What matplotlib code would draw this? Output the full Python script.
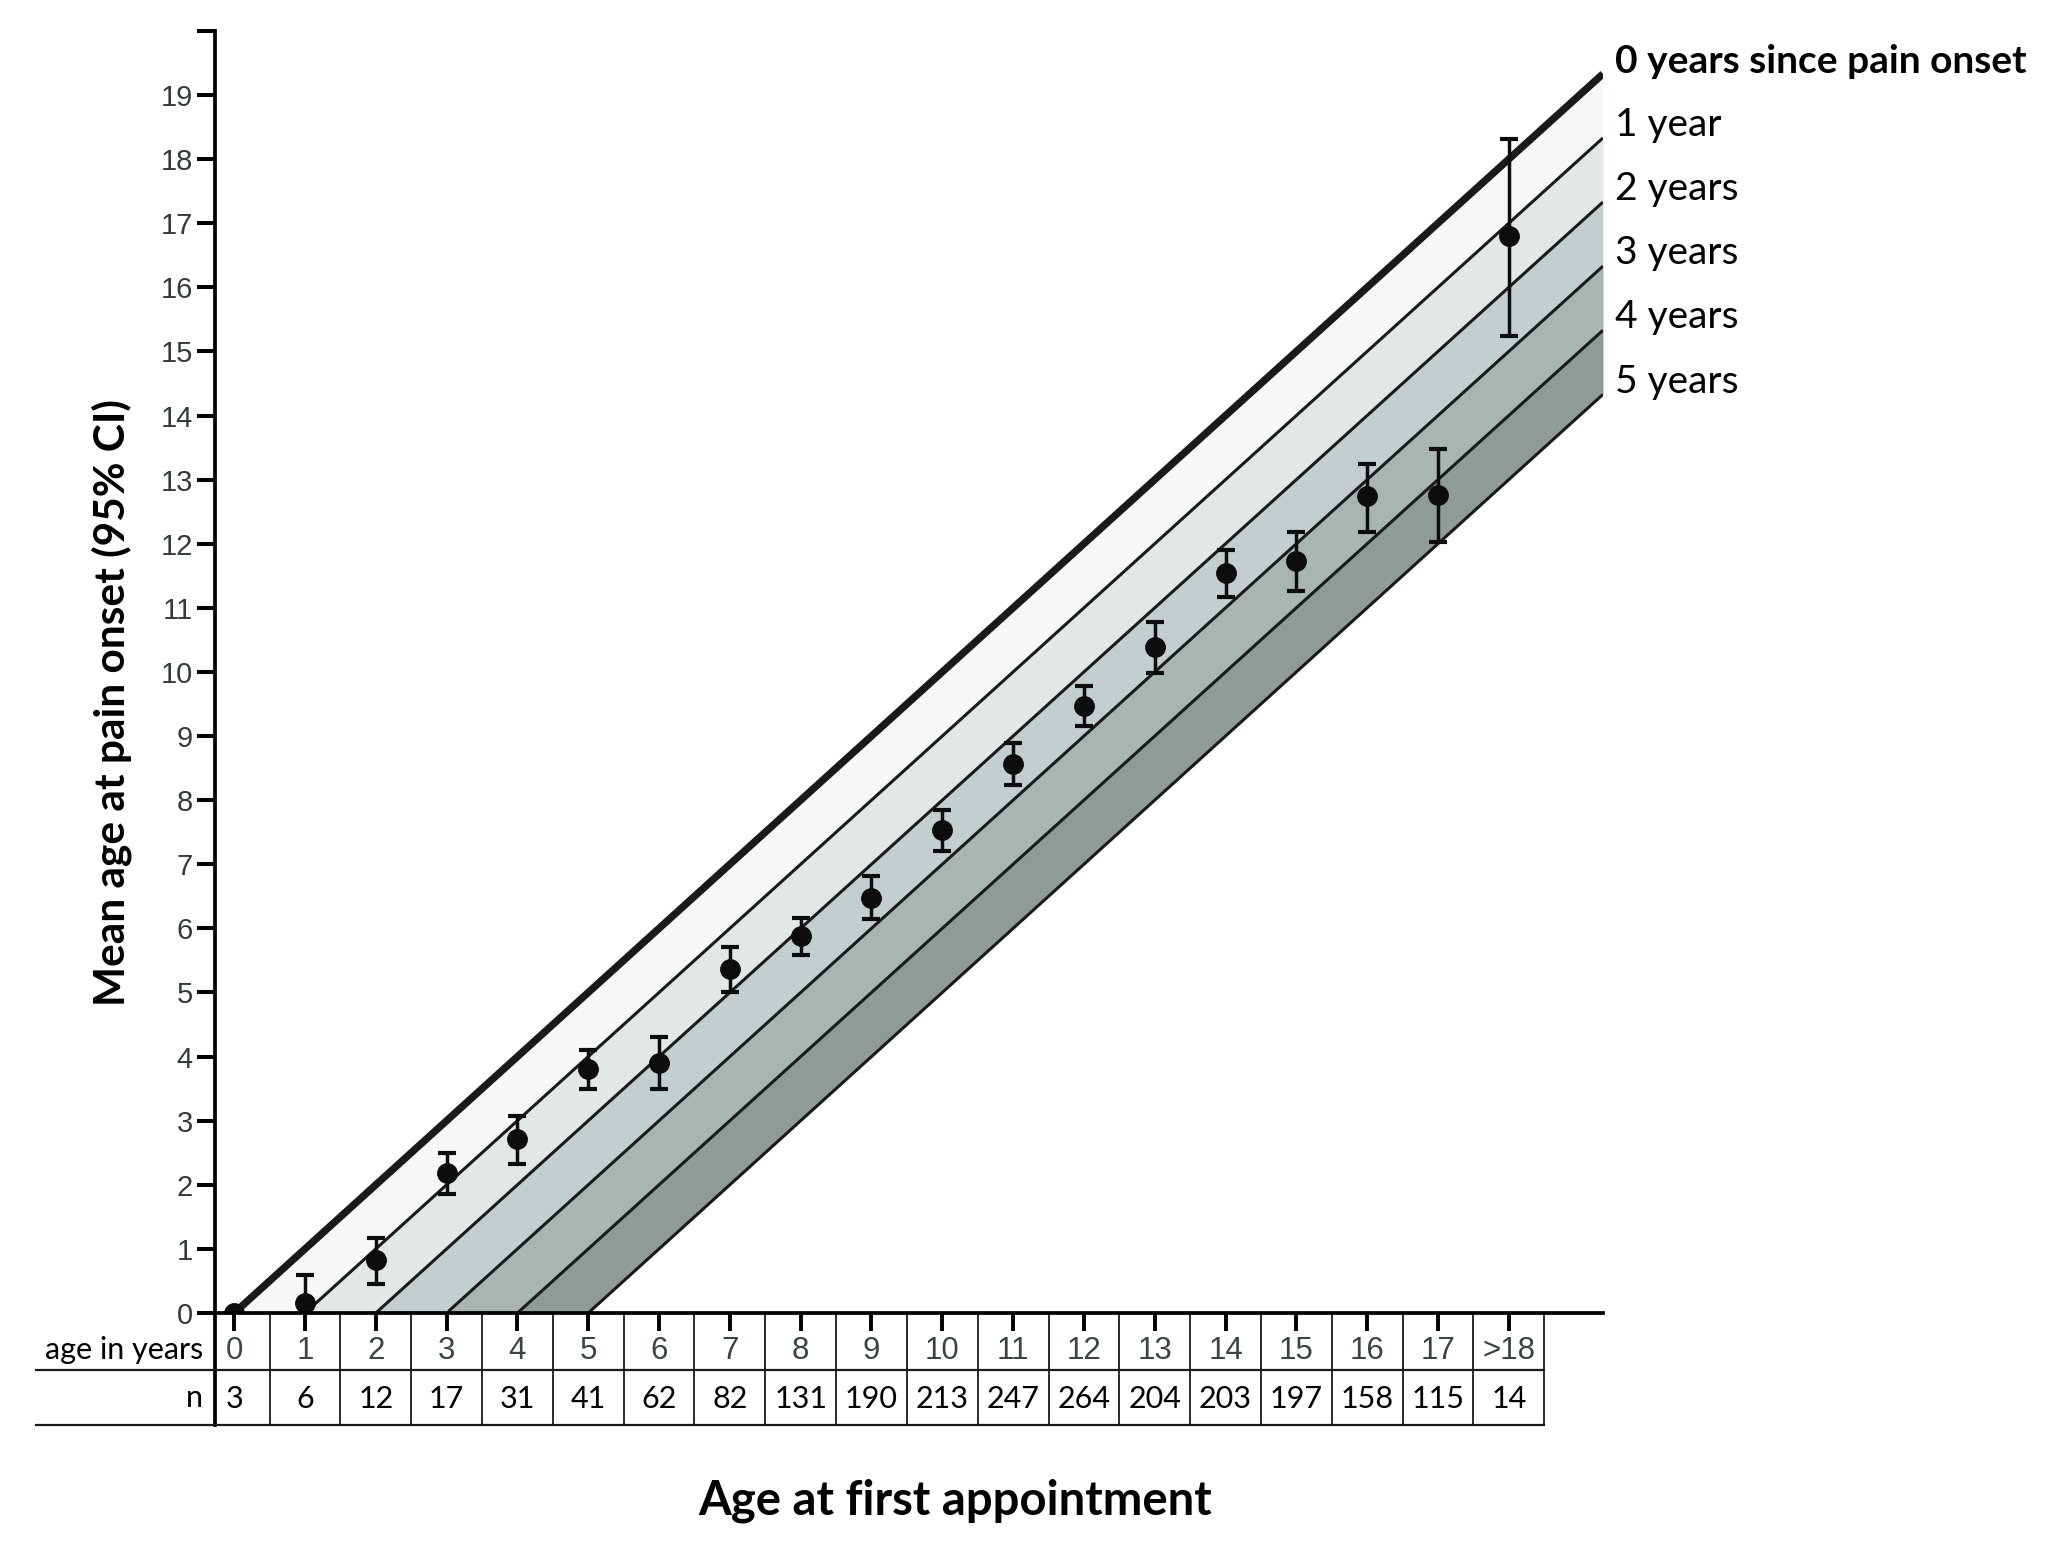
import matplotlib
matplotlib.use("Agg")
import matplotlib.pyplot as plt
import numpy as np

# ---------------- data ----------------
age_labels = ["0", "1", "2", "3", "4", "5", "6", "7", "8", "9", "10", "11",
              "12", "13", "14", "15", "16", "17", ">18"]
age_pos = list(range(19))
n_values = [3, 6, 12, 17, 31, 41, 62, 82, 131, 190, 213, 247, 264, 204, 203,
            197, 158, 115, 14]
mean_onset = [0.0, 0.16, 0.82, 2.18, 2.71, 3.80, 3.90, 5.36, 5.88, 6.47, 7.54,
              8.57, 9.47, 10.39, 11.54, 11.73, 12.74, 12.76, 16.80]
ci_low = [0.0, -0.3, 0.45, 1.85, 2.32, 3.49, 3.49, 5.01, 5.59, 6.14, 7.21,
          8.24, 9.16, 9.98, 11.17, 11.26, 12.18, 12.02, 15.24]
ci_high = [0.0, 0.6, 1.17, 2.49, 3.08, 4.11, 4.31, 5.71, 6.16, 6.82, 7.85,
           8.89, 9.78, 10.78, 11.91, 12.18, 13.25, 13.48, 18.32]
years_since = [0, 1, 2, 3, 4, 5]
band_labels = ["0 years since pain onset", "1 year", "2 years", "3 years",
               "4 years", "5 years"]
band_colors = ["#f6f8f8", "#e2e8e8", "#c3cfce", "#a8b5b3", "#8e9b99"]
y_ticks = list(range(0, 21))

# ---------------- figure ----------------
XMIN, XMAX = -0.27, 19.33
fig = plt.figure(figsize=(20.58, 15.44), dpi=100)
ax = fig.add_axes([0.1045, 0.1496, 0.6744, 0.8304])
ax.set_xlim(XMIN, XMAX)
ax.set_ylim(0, 20)

xs = np.linspace(0, XMAX, 800)
# shaded bands between successive "years since onset" lines
for k, col in enumerate(band_colors):
    upper = np.clip(xs - years_since[k], 0, None)
    lower = np.clip(xs - years_since[k + 1], 0, None)
    ax.fill_between(xs, lower, upper, color=col, lw=0, zorder=1)

for k in years_since:
    seg = xs[xs >= k]
    ax.plot(seg, seg - k, color="#1a1a1a", lw=5.3 if k == 0 else 2.2,
            solid_capstyle="butt", zorder=2)

yerr = [np.array(mean_onset) - np.array(ci_low),
        np.array(ci_high) - np.array(mean_onset)]
ax.errorbar(age_pos, mean_onset, yerr=yerr, fmt="o", color="#0d0d0d",
            ms=14, elinewidth=2.5, capsize=6.5, capthick=3, zorder=4)

# spines & ticks
for s in ["top", "right"]:
    ax.spines[s].set_visible(False)
ax.spines["left"].set_linewidth(2.7)
ax.spines["bottom"].set_linewidth(2.7)
ax.spines["left"].set_zorder(5)
ax.spines["bottom"].set_zorder(5)
ax.set_yticks(y_ticks)
ax.set_yticklabels([str(v) if v < 20 else "" for v in y_ticks],
                   family="Liberation Sans", fontsize=21, color="#333b3b")
ax.tick_params(axis="y", length=13, width=2.9, pad=3)
ax.set_xticks(age_pos)
ax.set_xticklabels([])
ax.tick_params(axis="x", length=13, width=2.8, direction="out")

# ---------------- table below axis ----------------
trans = ax.get_xaxis_transform()
row1, row2 = -0.0445, -0.0872
ax.plot([XMIN, XMIN], [0, row2], transform=trans, color="black", lw=2.7,
        clip_on=False)
for yy in (row1, row2):
    ax.plot([-2.80, 18.5], [yy, yy], transform=trans, color="#1a1a1a",
            lw=1.6, clip_on=False)
for k in age_pos:
    ax.plot([k + 0.5, k + 0.5], [0, row2], transform=trans, color="#1a1a1a",
            lw=1.3, clip_on=False)
for k, lab in zip(age_pos, age_labels):
    ax.text(k, -0.0300, lab, transform=trans, ha="center", va="center",
            family="Liberation Sans", fontsize=22.5, color="#3a4444")
for k, nv in zip(age_pos, n_values):
    ax.text(k, -0.0668, str(nv), transform=trans, ha="center", va="center",
            family="Lato", fontsize=22, color="black")
ax.text(-0.44, -0.0289, "age in years", transform=trans, ha="right",
        va="center", family="Lato", fontsize=22)
ax.text(-0.44, -0.0666, "n", transform=trans, ha="right", va="center",
        family="Lato", fontsize=22)

# ---------------- right-side labels ----------------
for k, lab in zip(years_since, band_labels):
    ax.text(19.50, XMAX - k + 0.20, lab, ha="left", va="center",
            family="Lato", fontsize=28,
            fontweight="bold" if k == 0 else "normal", clip_on=False)

# ---------------- axis titles ----------------
fig.text(0.464, 0.028, "Age at first appointment", ha="center", va="center",
         family="Lato", fontweight="bold", fontsize=34)
fig.text(0.0545, 0.545, "Mean age at pain onset (95% CI)", ha="center",
         va="center", rotation=90, family="Lato", fontweight="bold",
         fontsize=30.5)

fig.savefig("out.png", dpi=100)
